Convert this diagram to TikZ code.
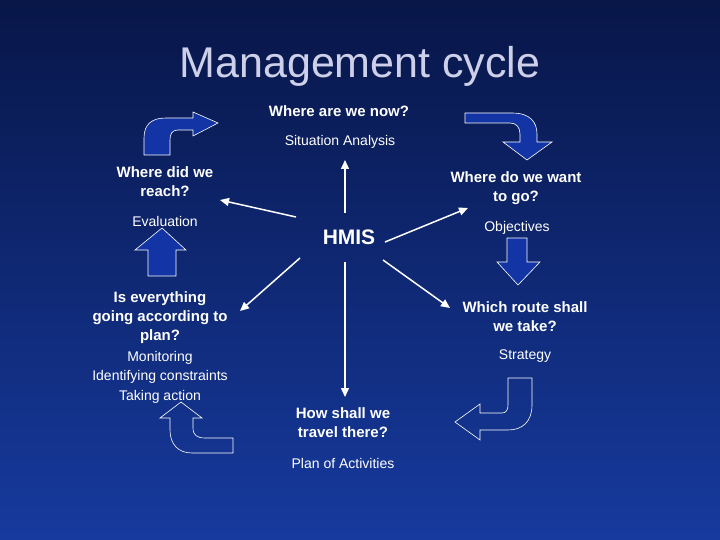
\documentclass[tikz,border=0pt]{standalone}
\usepackage{fontspec}
\setmainfont{Liberation Sans}
\usetikzlibrary{arrows.meta}
\definecolor{navytop}{RGB}{8,22,72}
\definecolor{navybot}{RGB}{22,58,158}
\definecolor{blockblue}{RGB}{18,52,165}
\definecolor{titlegray}{RGB}{205,208,232}

\begin{document}
\begin{tikzpicture}[x=1pt,y=-1pt,
  question/.style={text=white,font=\bfseries\fontsize{15}{19}\selectfont,align=center,inner sep=1pt},
  answer/.style={text=white,font=\fontsize{14}{19.5}\selectfont,align=center,inner sep=1pt},
  spoke/.style={draw=white,line width=1.5pt,-{Triangle[length=9pt,width=8pt]}},
  blockarrow/.style={fill=blockblue,draw=white,line width=0.6pt,line join=miter},
  hollowarrow/.style={draw=white,line width=0.6pt,line join=miter}]

% background
  \shade[top color=navytop,bottom color=navybot] (0,0) rectangle (720,540);
  \useasboundingbox (0,0) rectangle (720,540);

% title and centre
  \node[text=titlegray,font=\fontsize{43}{46}\selectfont] (title) at (360,66) {Management cycle};
  \node[text=white,font=\bfseries\fontsize{21}{24}\selectfont] (hmis) at (349,237) {HMIS};

% the five stages
  \node[question] (now)   at (339,111) {Where are we now?};
  \node[answer]   (sit)   at (340,142) {Situation Analysis};
  \node[question] (want)  at (516,188) {Where do we want\\to go?};
  \node[answer]   (obj)   at (517,228) {Objectives};
  \node[question] (route) at (525,317) {Which route shall\\we take?};
  \node[answer]   (strat) at (525,356) {Strategy};
  \node[question] (how)   at (343,423) {How shall we\\travel there?};
  \node[answer]   (plan)  at (343,463) {Plan of Activities};
  \node[question] (plan2) at (160,318) {Is everything\\going according to\\plan?};
  \node[answer]   (mon)   at (160,377) {Monitoring\\Identifying constraints\\Taking action};
  \node[question] (reach) at (165,182) {Where did we\\reach?};
  \node[answer]   (eval)  at (165,221) {Evaluation};

% spoke ends
  \coordinate (pUp)    at (345,160);
  \coordinate (pWant)  at (468,208);
  \coordinate (pRoute) at (450,308);
  \coordinate (pHow)   at (345,397);
  \coordinate (pPlan)  at (240,311);
  \coordinate (pReach) at (220,200);

% spokes
  \draw[spoke] (345,213) -- (pUp);
  \draw[spoke] (385,242) -- (pWant);
  \draw[spoke] (383,260) -- (pRoute);
  \draw[spoke] (345,262) -- (pHow);
  \draw[spoke] (300,258) -- (pPlan);
  \draw[spoke] (296,217) -- (pReach);

% block arrows
  \draw[blockarrow] (144,155) -- (144,138) .. controls (144,124) and (152,118) .. (166,118)
    -- (193,118) -- (193,112) -- (218,123) -- (193,136) -- (193,130) -- (178,130)
    .. controls (172,130) and (170,134) .. (170,140) -- (170,155) -- cycle;
  \draw[blockarrow] (465,113) -- (512,113) .. controls (530,113) and (537,122) .. (537,134)
    -- (537,142) -- (552,142) -- (527,160) -- (503,142) -- (520,142) -- (520,134)
    .. controls (520,127) and (516,123) .. (510,123) -- (465,123) -- cycle;
  \draw[blockarrow] (148,276) -- (148,250) -- (135,250) -- (162,228) -- (186,250)
    -- (176,250) -- (176,276) -- cycle;
  \draw[blockarrow] (507,238) -- (527,238) -- (527,262) -- (540,262) -- (518,285)
    -- (497,262) -- (507,262) -- cycle;
  \draw[hollowarrow] (233,453) -- (192,453) .. controls (178,453) and (170,444) .. (170,430)
    -- (170,418) -- (160,418) -- (181,402) -- (202,418) -- (193,418) -- (193,428)
    .. controls (193,435) and (197,438) .. (205,438) -- (233,438) -- cycle;
  \draw[hollowarrow] (508,378) -- (532,378) -- (532,405) .. controls (532,422) and (522,430) .. (508,430)
    -- (480,430) -- (480,440) -- (455,422) -- (480,404) -- (480,413) -- (502,413)
    .. controls (506,413) and (508,410) .. (508,405) -- cycle;
\end{tikzpicture}
\end{document}
